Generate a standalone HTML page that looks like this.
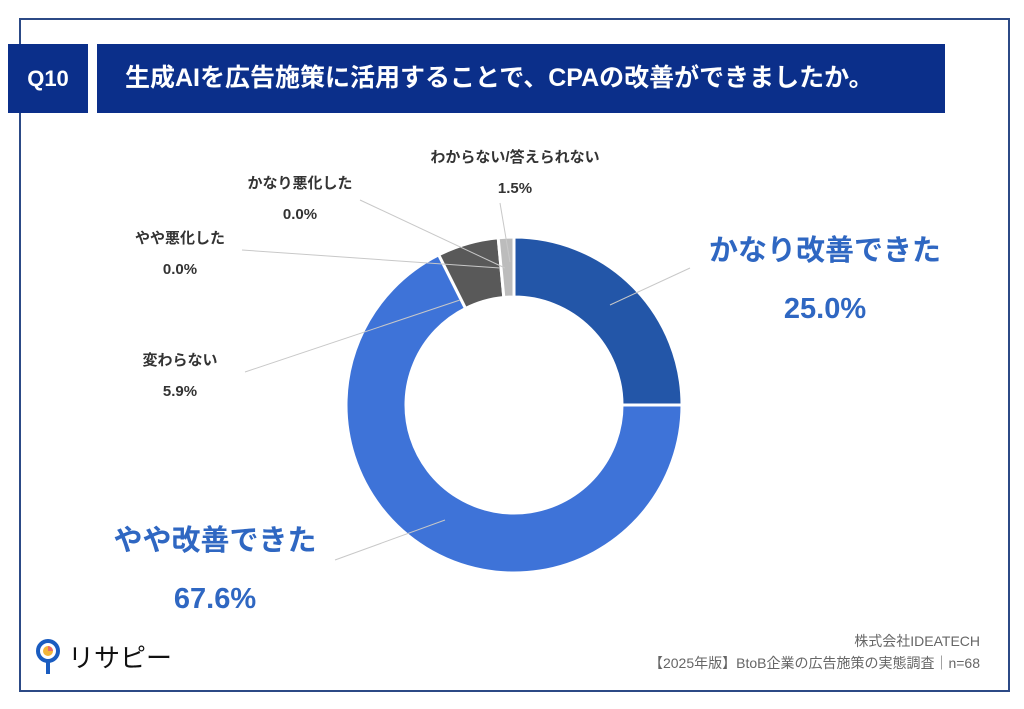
<!DOCTYPE html>
<html><head><meta charset="utf-8"><style>
body{margin:0;width:1024px;height:709px;background:#fff;font-family:"Liberation Sans","Noto Sans CJK JP",sans-serif;position:relative;overflow:hidden}
.abs{position:absolute}
.lbl{position:absolute;font-size:15px;font-weight:bold;color:#333;text-align:center;line-height:31px}
.big{position:absolute;font-size:29px;font-weight:bold;color:#2f67c2;text-align:center;line-height:58px}
</style></head><body>
<div class="abs" style="left:19px;top:18px;width:987px;height:670px;border:2px solid #2c4a86"></div>
<div class="abs" style="left:8px;top:44px;width:80px;height:69px;background:#0b2f8a;color:#fff;font-weight:bold;font-size:22px;line-height:69px;text-align:center">Q10</div>
<div class="abs" style="left:97px;top:44px;width:848px;height:69px;background:#0b2f8a;color:#fff;font-weight:bold;font-size:25px;line-height:69px;padding-left:28px;box-sizing:border-box">生成AIを広告施策に活用することで、CPAの改善ができましたか。</div>
<svg class="abs" style="left:0;top:0" width="1024" height="709" id="chart"></svg>
<div class="lbl" style="left:400px;top:142px;width:230px">わからない/答えられない<br>1.5%</div>
<div class="lbl" style="left:200px;top:168px;width:200px">かなり悪化した<br>0.0%</div>
<div class="lbl" style="left:100px;top:223px;width:160px">やや悪化した<br>0.0%</div>
<div class="lbl" style="left:120px;top:345px;width:120px">変わらない<br>5.9%</div>
<div class="big" style="left:680px;top:222px;width:290px">かなり改善できた<br>25.0%</div>
<div class="big" style="left:90px;top:512px;width:250px">やや改善できた<br>67.6%</div>
<div class="abs" style="left:36px;top:636px;font-size:26px;color:#111;display:flex;align-items:center">
<svg width="26" height="40"><circle cx="12" cy="15" r="10" fill="#fff" stroke="#1a5cc0" stroke-width="4"/><circle cx="12" cy="15" r="5" fill="#f2b53a"/><path d="M12 15 L12 10 A5 5 0 0 1 17 15Z" fill="#e86a6a"/><line x1="12" y1="25" x2="12" y2="38" stroke="#1a5cc0" stroke-width="4"/></svg><span style="margin-left:6px">リサピー</span></div>
<div class="abs" style="right:44px;top:630px;font-size:14px;color:#666;text-align:right;line-height:22px">株式会社IDEATECH<br>【2025年版】BtoB企業の広告施策の実態調査｜n=68</div>
<script>
const categories=["かなり改善できた","やや改善できた","かなり悪化した","やや悪化した","変わらない","わからない/答えられない"];
const values=[25.0,67.6,0.0,0.0,5.9,1.5];
const colors=["#2356a8","#3e73d8","#777","#777","#595959","#bcbcbc"];
const svg=document.getElementById('chart');const NS="http://www.w3.org/2000/svg";
const cx=514,cy=405,R=168,r=108;
const total=values.reduce((a,b)=>a+b,0);
let a0=0;
function pt(rad,a){return [cx+rad*Math.sin(a),cy-rad*Math.cos(a)];}
values.forEach((v,i)=>{
 const a1=a0+v/total*2*Math.PI;
 if(v>0){
 const large=(a1-a0)>Math.PI?1:0;
 const p1=pt(R,a0),p2=pt(R,a1),p3=pt(r,a1),p4=pt(r,a0);
 const p=document.createElementNS(NS,'path');
 p.setAttribute('d',`M${p1}A${R} ${R} 0 ${large} 1 ${p2}L${p3}A${r} ${r} 0 ${large} 0 ${p4}Z`);
 p.setAttribute('fill',colors[i]);p.setAttribute('stroke','#fff');p.setAttribute('stroke-width','3');
 
 
 svg.appendChild(p);}
 a0=a1;
});
const leaders=[[610,305,690,268],[445,520,335,560],[505,268,360,200],[500,268,242,250],[460,300,245,372],[510,262,500,203]];
leaders.forEach((l,i)=>{const e=document.createElementNS(NS,'line');
 e.setAttribute('x1',l[0]);e.setAttribute('y1',l[1]);e.setAttribute('x2',l[2]);e.setAttribute('y2',l[3]);
 e.setAttribute('stroke','#c8c8c8');e.setAttribute('stroke-width','1');
 
 
 svg.appendChild(e);});
</script>
</body></html>
